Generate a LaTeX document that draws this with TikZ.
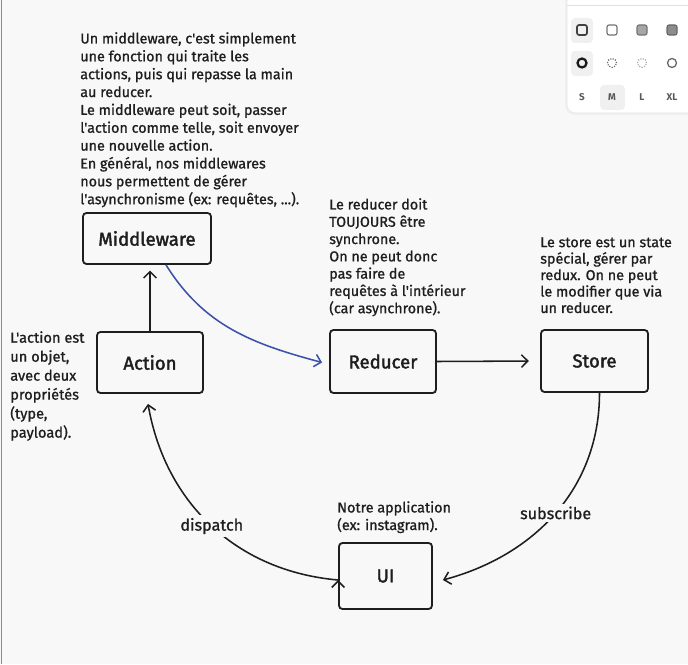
\documentclass[tikz,border=0pt]{standalone}
\usepackage{fontspec}
\setmainfont{Fira Sans}
\newfontfamily\sketchfont{Fira Sans}[FakeBold=1]
\newfontfamily\boxfont{Fira Sans}[FakeBold=2]
\usetikzlibrary{arrows.meta,positioning,calc}
\definecolor{ink}{HTML}{1E1E1E}
\definecolor{canvas}{HTML}{F8F8F8}
\definecolor{inkblue}{HTML}{3A52A8}
\tikzstyle{every picture}+=[>={Straight Barb[length=4.5pt,width=9pt]}]
\tikzstyle{reduxbox}=[rectangle,draw=ink,line width=1.3pt,rounded corners=2.5pt,
  text=ink,font=\boxfont\fontsize{13.2}{15}\selectfont]
\tikzstyle{memo}=[anchor=north west,align=left,inner sep=0pt,text=ink,
  font=\sketchfont\fontsize{10.2}{12.5}\selectfont]
\tikzstyle{flowlabel}=[fill=canvas,inner sep=2pt,text=ink,font=\sketchfont\fontsize{11.5}{13}\selectfont]

\begin{document}
\begin{tikzpicture}[x=0.025cm,y=0.025cm]
\fill[canvas] (0,0) rectangle (688,664);
\useasboundingbox (0,0) rectangle (688,664);
\draw[black!45,line width=0.6pt] (1,0) -- (1,664);
% les blocs
\node[reduxbox,minimum width=3.2cm,minimum height=1.275cm] (middleware) at (147,425.5) {Middleware};
\node[reduxbox,minimum width=2.65cm,minimum height=1.525cm] (action) at (150,301.5) {Action};
\node[reduxbox,minimum width=2.65cm,minimum height=1.575cm] (reducer) at (383,302.5) {Reducer};
\node[reduxbox,minimum width=2.675cm,minimum height=1.55cm] (store) at (594.5,303) {Store};
\node[reduxbox,minimum width=2.325cm,minimum height=1.65cm] (ui) at (385.5,88) {UI};
% les notes
\node[memo,font=\sketchfont\fontsize{10.2}{12.7}\selectfont] (middlewarenote) at (80,632)
  {Un middleware, c'est simplement\\
  une fonction qui traite les\\ actions, puis qui repasse la main\\ au reducer.\\
  Le middleware peut soit, passer\\ l'action comme telle, soit envoyer\\
  une nouvelle action.\\ En général, nos middlewares\\ nous permettent de gérer\\
  l'asynchronisme (ex: requêtes, ...).};
\node[memo,font=\sketchfont\fontsize{10.2}{12.3}\selectfont] (reducernote) at (329,466)
  {Le reducer doit\\ TOUJOURS être\\ synchrone.\\
  On ne peut donc\\ pas faire de\\ requêtes à l'intérieur\\ (car asynchrone).};
\node[memo,font=\sketchfont\fontsize{10.2}{11.7}\selectfont] (storenote) at (540,427)
  {Le store est un state\\ spécial, gérer par\\
  redux. On ne peut\\ le modifier que via\\ un reducer.};
\node[memo,font=\sketchfont\fontsize{10.4}{13.5}\selectfont] (actionnote) at (10,333) {L'action est\\
  un objet,\\ avec deux\\ propriétés\\ (type,\\ payload).};
\node[memo] (uinote) at (337,163) {Notre application\\ (ex: instagram).};
% les fleches
\path[->,draw=ink,line width=1.1pt]
  (action.north) edge [shorten >=4pt] (action.north |- middleware.south)
  (reducer.east) edge [shorten >=8pt] (store.west)
  ($(store.south)+(5,0)$) edge [out=-90,in=15] node [flowlabel,pos=0.5] {subscribe} ($(ui.east)+(10,-4)$)
  ($(ui.west)+(0,-4)$) edge [out=175,in=-80] node [flowlabel,pos=0.5] {dispatch} ($(action.south)+(-2,-10)$);
\draw[->,inkblue,line width=1.1pt] ($(middleware.south)+(19,0)$) to [out=-58,in=165]
  ($(reducer.west)+(-7,-1)$);
% la barre d'outils
\fill[black!6,rounded corners=7pt] (565,549) rectangle (702,680);
\filldraw[fill=white,draw=black!10,rounded corners=6pt] (567,551) rectangle (700,680);
\draw[black!12] (567,659) -- (688,659);
\fill[black!6,rounded corners=3pt] (571,621) rectangle (593,646);
\fill[black!6,rounded corners=3pt] (571,588) rectangle (593,613);
\fill[black!6,rounded corners=3pt] (600,554) rectangle (625,579);
\draw[black!75,line width=1.2pt,rounded corners=1.5pt] (577,629) rectangle (587,639);
\draw[black!55,line width=0.8pt,rounded corners=1.5pt] (607,629) rectangle (617,639);
\filldraw[fill=black!35,draw=black!55,line width=0.8pt,rounded corners=1.5pt] (637,629) rectangle (647,639);
\filldraw[fill=black!45,draw=black!60,line width=0.8pt,rounded corners=1.5pt] (667,629) rectangle (677,639);
\draw[black!90,line width=1.6pt] (582,601) circle (4.5);
\draw[black!60,line width=0.8pt,densely dotted] (612,601) circle (4.5);
\draw[black!35,line width=0.8pt,densely dotted] (642,601) circle (4.5);
\draw[black!60,line width=0.9pt] (672,601) circle (4.5);
\foreach \sz/\px in {S/582,M/612,L/642,XL/672}
  \node[text=black!65,font=\fontsize{7}{8}\selectfont\bfseries] at (\px,567) {\sz};
\end{tikzpicture}
\end{document}
